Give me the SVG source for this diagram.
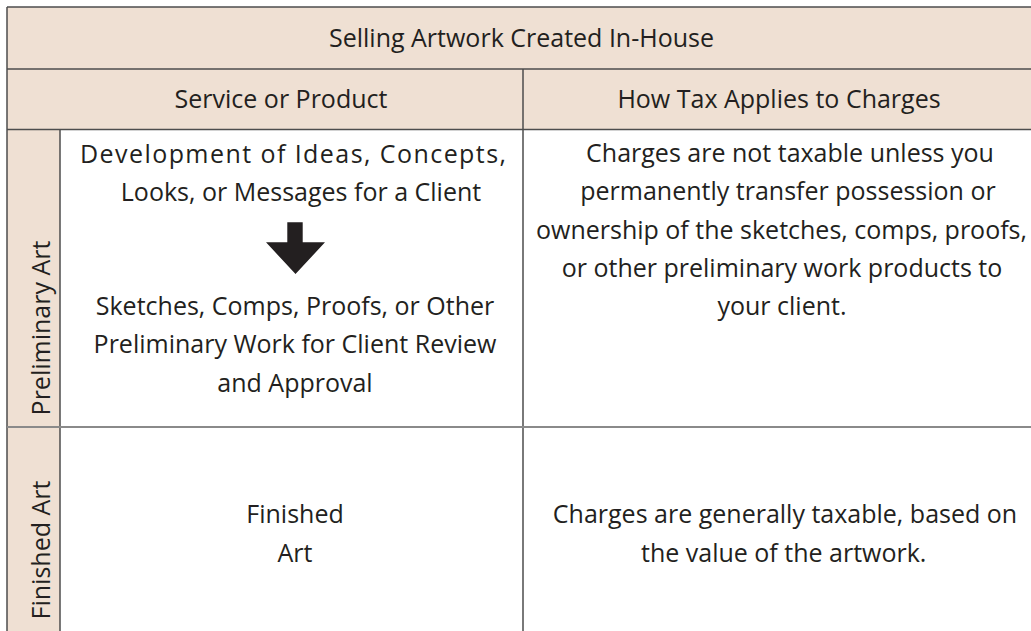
<svg xmlns="http://www.w3.org/2000/svg" width="1031" height="631" viewBox="0 0 1031 631">
<style>
.t{font-family:"Open Sans","Noto Sans","Liberation Sans",sans-serif;font-size:25px;fill:#231f20;text-anchor:middle}
.dark{stroke:#4d4d4d;stroke-width:1.5;fill:none}
.grey{stroke:#8a8a8a;stroke-width:2;fill:none}
.bg{fill:#efe0d3}
</style>
<rect width="1031" height="631" fill="#ffffff"/>
<g id="backgrounds">
<rect class="bg" x="7" y="7" width="1030" height="122"/>
<rect class="bg" x="7" y="129" width="53" height="510"/>
</g>
<g id="connectors">
<line class="dark" x1="7" y1="7" x2="1040" y2="7"/>
<line class="dark" x1="7" y1="7" x2="7" y2="640"/>
<line class="dark" x1="7" y1="69" x2="1040" y2="69"/>
<line class="dark" x1="7" y1="129.5" x2="1040" y2="129.5"/>
<line class="dark" x1="523" y1="69" x2="523" y2="640"/>
<line class="dark" x1="60" y1="129.5" x2="60" y2="640"/>
<line class="grey" x1="7" y1="427" x2="1040" y2="427"/>
<polygon id="arrow" points="287.3,222.3 302.7,222.3 302.7,242.3 325,242.3 295.5,274 266,242.3 287.3,242.3" fill="#231f20"/>
</g>
<g id="title">
<text class="t" x="521.5" y="47">Selling Artwork Created In-House</text>
</g>
<g id="header-service">
<text class="t" x="281" y="108">Service or Product</text>
</g>
<g id="header-tax">
<text class="t" x="779" y="108">How Tax Applies to Charges</text>
</g>
<g id="label-preliminary">
<text class="t" transform="translate(50,328) rotate(-90)">Preliminary Art</text>
</g>
<g id="label-finished">
<text class="t" transform="translate(50,550) rotate(-90)">Finished Art</text>
</g>
<g id="preliminary-service">
<text class="t" x="80" y="163" style="text-anchor:start" textLength="426" lengthAdjust="spacing">Development of Ideas, Concepts,</text>
<text class="t" x="301" y="201">Looks, or Messages for a Client</text>
<text class="t" x="295" y="315">Sketches, Comps, Proofs, or Other</text>
<text class="t" x="295" y="353">Preliminary Work for Client Review</text>
<text class="t" x="295" y="391.5">and Approval</text>
</g>
<g id="preliminary-tax">
<text class="t" x="790" y="162">Charges are not taxable unless you</text>
<text class="t" x="788" y="200">permanently transfer possession or</text>
<text class="t" x="781.5" y="238.5">ownership of the sketches, comps, proofs,</text>
<text class="t" x="782" y="276.8">or other preliminary work products to</text>
<text class="t" x="782" y="315">your client.</text>
</g>
<g id="finished-service">
<text class="t" x="295" y="523">Finished</text>
<text class="t" x="295" y="562">Art</text>
</g>
<g id="finished-tax">
<text class="t" x="785" y="522.7">Charges are generally taxable, based on</text>
<text class="t" x="783.7" y="561.7">the value of the artwork.</text>
</g>
</svg>
